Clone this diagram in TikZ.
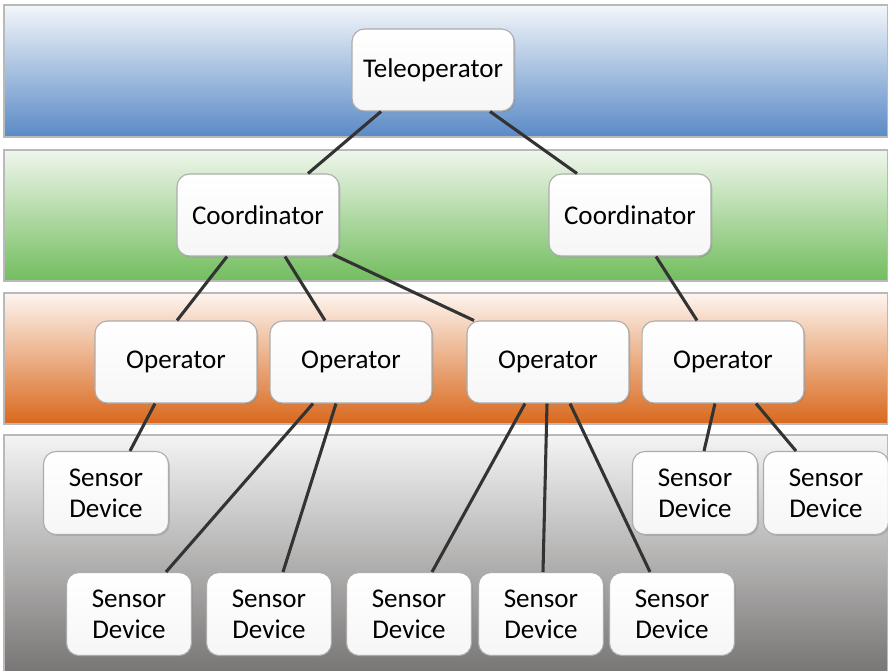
\documentclass[tikz,border=0pt]{standalone}
\usepackage{fontspec}
\setmainfont{Carlito}
\usepackage{tikz}
\usetikzlibrary{calc,shadows}

\definecolor{blueTop}{HTML}{F3F6FA}
\definecolor{blueMid}{HTML}{B2C9E3}
\definecolor{blueBot}{HTML}{5A8AC6}
\definecolor{greenTop}{HTML}{EFF6EC}
\definecolor{greenMid}{HTML}{C4E1BA}
\definecolor{greenBot}{HTML}{72BD5E}
\definecolor{orangeTop}{HTML}{FDF5F0}
\definecolor{orangeMid}{HTML}{EDBE97}
\definecolor{orangeBot}{HTML}{D9681C}
\definecolor{grayTop}{HTML}{F4F4F4}
\definecolor{grayMid}{HTML}{C6C6C4}
\definecolor{grayBot}{HTML}{787675}

\tikzset{
    band/.style={draw=gray!55, line width=0.8pt},
    unit/.style={draw=gray!65, line width=0.6pt, rounded corners=0.25cm,
        top color=white, bottom color=gray!7,
        drop shadow={shadow xshift=0.8pt, shadow yshift=-0.8pt, opacity=0.35},
        minimum width=3.24cm, minimum height=1.64cm, align=center,
        font=\fontsize{15.4}{17.5}\selectfont},
    sensor/.style={unit, minimum width=2.5cm, minimum height=1.66cm},
    link/.style={line width=1.75pt, draw=black!80}
}

\begin{document}
\begin{tikzpicture}[x=0.02cm, y=-0.02cm]
    \useasboundingbox (0,0) rectangle (888,670);

    % Layers (bands)
    \draw[band, top color=blueTop, middle color=blueMid, bottom color=blueBot] (4,5) rectangle (888,137);
    \draw[band, top color=greenTop, middle color=greenMid, bottom color=greenBot] (4,150) rectangle (888,281);
    \draw[band, top color=orangeTop, middle color=orangeMid, bottom color=orangeBot] (4,293) rectangle (888,424);
    \draw[band, top color=grayTop, middle color=grayMid, bottom color=grayBot] (4,435) rectangle (888,672);

    % Teleoperator
    \node[unit] (tele) at (433,70) {Teleoperator};

    % Coordinators
    \node[unit] (coordL) at (258,215) {Coordinator};
    \node[unit] (coordR) at (630,215) {Coordinator};

    % Operators
    \node[unit] (op1) at (176,362) {Operator};
    \node[unit] (op2) at (351,362) {Operator};
    \node[unit] (op3) at (548,362) {Operator};
    \node[unit] (op4) at (723,362) {Operator};

    % Sensor devices, upper row
    \node[sensor] (sd1) at (106,493) {Sensor\\Device};
    \node[sensor] (sd8) at (695,493) {Sensor\\Device};
    \node[sensor] (sd9) at (826,493) {Sensor\\Device};

    % Sensor devices, lower row
    \node[sensor] (sd2) at (129,614) {Sensor\\Device};
    \node[sensor] (sd3) at (269,614) {Sensor\\Device};
    \node[sensor] (sd4) at (409,614) {Sensor\\Device};
    \node[sensor] (sd5) at (541,614) {Sensor\\Device};
    \node[sensor] (sd6) at (672,614) {Sensor\\Device};

    % Teleoperator to coordinators
    \draw[link] ($(tele.south)+(-52,0)$) -- ($(coordL.north)+(50,0)$);
    \draw[link] ($(tele.south)+(57,0)$) -- ($(coordR.north)+(-53,0)$);

    % Coordinators to operators
    \draw[link] ($(coordL.south)+(-31,0)$) -- ($(op1.north)+(1,0)$);
    \draw[link] ($(coordL.south)+(27,0)$) -- ($(op2.north)+(-26,0)$);
    \draw[link] ($(coordL.south)+(75,-2)$) -- ($(op3.north)+(-74,0)$);
    \draw[link] ($(coordR.south)+(26,0)$) -- ($(op4.north)+(-26,0)$);

    % Operators to sensor devices
    \draw[link] ($(op1.south)+(-21,0)$) -- ($(sd1.north)+(24,0)$);
    \draw[link] ($(op2.south)+(-38,0)$) -- ($(sd2.north)+(37,0)$);
    \draw[link] ($(op2.south)+(-15,0)$) -- ($(sd3.north)+(14,0)$);
    \draw[link] ($(op3.south)+(-23,0)$) -- ($(sd4.north)+(23,0)$);
    \draw[link] ($(op3.south)+(-1,0)$) -- ($(sd5.north)+(2,0)$);
    \draw[link] ($(op3.south)+(22,0)$) -- ($(sd6.north)+(-22,0)$);
    \draw[link] ($(op4.south)+(-8,0)$) -- ($(sd8.north)+(9,0)$);
    \draw[link] ($(op4.south)+(33,0)$) -- ($(sd9.north)+(-30,0)$);
\end{tikzpicture}
\end{document}
